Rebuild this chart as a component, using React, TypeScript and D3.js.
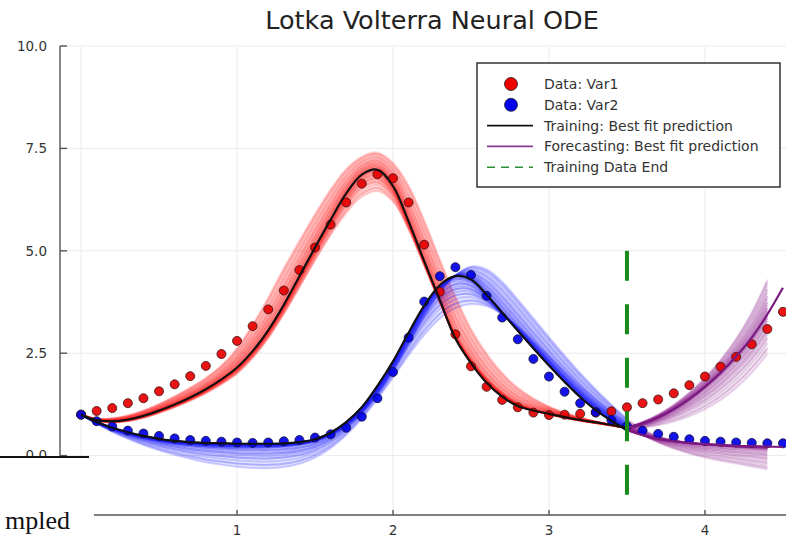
import React from 'react';
import * as d3 from 'd3';

const WIDTH = 786;
const HEIGHT = 539;

// Observation times and the two observed populations
const sampleTimes = [
  0, 0.1, 0.2, 0.3, 0.4, 0.5, 0.6, 0.7, 0.8, 0.9,
  1.0, 1.1, 1.2, 1.3, 1.4, 1.5, 1.6, 1.7, 1.8, 1.9,
  2.0, 2.1, 2.2, 2.3, 2.4, 2.5, 2.6, 2.7, 2.8, 2.9,
  3.0, 3.1, 3.2, 3.3, 3.4, 3.5, 3.6, 3.7, 3.8, 3.9,
  4.0, 4.1, 4.2, 4.3, 4.4, 4.5,
];
const var1Data = [
  1.00, 1.09, 1.16, 1.28, 1.40, 1.57, 1.74, 1.94, 2.19, 2.48,
  2.80, 3.16, 3.57, 4.03, 4.53, 5.08, 5.64, 6.18, 6.64, 6.87,
  6.77, 6.18, 5.15, 4.00, 2.96, 2.18, 1.68, 1.36, 1.18, 1.05,
  0.99, 1.00, 1.02, 1.05, 1.08, 1.18, 1.28, 1.37, 1.52, 1.72,
  1.93, 2.17, 2.41, 2.72, 3.09, 3.51,
];
const var2Data = [
  1.00, 0.84, 0.71, 0.61, 0.54, 0.48, 0.42, 0.38, 0.36, 0.34,
  0.32, 0.31, 0.32, 0.35, 0.38, 0.44, 0.52, 0.68, 0.95, 1.40,
  2.04, 2.88, 3.76, 4.38, 4.60, 4.41, 3.90, 3.37, 2.84, 2.36,
  1.93, 1.56, 1.28, 1.06, 0.87, 0.72, 0.61, 0.53, 0.46, 0.40,
  0.36, 0.34, 0.32, 0.31, 0.30, 0.30,
];

// Best-fit prediction over the training window
const trainTimes = [
  0, 0.1, 0.2, 0.3, 0.4, 0.5, 0.6, 0.7, 0.8, 0.9,
  1.0, 1.1, 1.2, 1.3, 1.4, 1.5, 1.6, 1.7, 1.8, 1.9,
  2.0, 2.1, 2.2, 2.3, 2.4, 2.5, 2.6, 2.7, 2.8, 2.9,
  3.0, 3.1, 3.2, 3.3, 3.4, 3.5,
];
const var1Fit = [
  1.00, 0.87, 0.84, 0.88, 0.97, 1.10, 1.25, 1.42, 1.62, 1.86,
  2.15, 2.55, 3.06, 3.68, 4.38, 5.08, 5.76, 6.40, 6.86, 6.98,
  6.58, 5.72, 4.75, 3.80, 2.86, 2.26, 1.78, 1.44, 1.21, 1.10,
  1.02, 0.94, 0.87, 0.81, 0.75, 0.68,
];
const var2Fit = [
  1.00, 0.82, 0.68, 0.57, 0.48, 0.41, 0.36, 0.33, 0.31, 0.30,
  0.29, 0.29, 0.29, 0.30, 0.33, 0.40, 0.56, 0.82, 1.18, 1.70,
  2.30, 3.00, 3.66, 4.16, 4.38, 4.30, 3.93, 3.49, 3.05, 2.62,
  2.20, 1.80, 1.43, 1.11, 0.85, 0.62,
];

// Best-fit prediction past the end of the training data
const forecastTimes = [3.5, 3.6, 3.7, 3.8, 3.9, 4.0, 4.1, 4.2, 4.3, 4.4, 4.5];
const var1Forecast = [0.68, 0.78, 0.93, 1.13, 1.38, 1.68, 2.02, 2.42, 2.88, 3.45, 4.10];
const var2Forecast = [0.62, 0.50, 0.41, 0.35, 0.31, 0.28, 0.26, 0.24, 0.23, 0.22, 0.21];

// Outer edges of the sampled prediction ensemble (training window)
const var1SpreadHigh = [
  1.00, 0.90, 0.91, 0.98, 1.10, 1.26, 1.45, 1.66, 1.90, 2.20,
  2.62, 3.20, 3.86, 4.58, 5.25, 5.90, 6.50, 7.00, 7.30, 7.40,
  7.15, 6.60, 5.75, 4.80, 3.90, 3.10, 2.50, 2.02, 1.66, 1.40,
  1.20, 1.05, 0.93, 0.83, 0.75, 0.68,
];
const var1SpreadLow = [
  1.00, 0.85, 0.81, 0.84, 0.92, 1.04, 1.18, 1.34, 1.52, 1.74,
  2.00, 2.38, 2.86, 3.45, 4.10, 4.76, 5.38, 5.92, 6.32, 6.46,
  6.20, 5.52, 4.64, 3.74, 2.94, 2.34, 1.88, 1.53, 1.28, 1.12,
  1.01, 0.92, 0.85, 0.79, 0.73, 0.67,
];
const var2SpreadHigh = [
  1.00, 0.81, 0.65, 0.53, 0.43, 0.35, 0.29, 0.25, 0.22, 0.20,
  0.19, 0.19, 0.20, 0.22, 0.27, 0.35, 0.50, 0.72, 1.04, 1.48,
  2.05, 2.72, 3.40, 3.98, 4.40, 4.62, 4.55, 4.25, 3.82, 3.36,
  2.90, 2.45, 2.02, 1.62, 1.25, 0.90,
];
const var2SpreadLow = [
  1.00, 0.78, 0.58, 0.41, 0.26, 0.13, 0.02, -0.08, -0.16, -0.22,
  -0.27, -0.30, -0.31, -0.28, -0.20, -0.05, 0.18, 0.50, 0.90, 1.38,
  1.90, 2.45, 2.95, 3.35, 3.60, 3.70, 3.65, 3.45, 3.15, 2.80,
  2.42, 2.05, 1.70, 1.37, 1.07, 0.80,
];

// Outer edges of the sampled prediction ensemble (forecast window)
const ensembleForecastTimes = [3.5, 3.6, 3.7, 3.8, 3.9, 4.0, 4.1, 4.2, 4.3, 4.4];
const var1ForecastHigh = [0.68, 0.82, 1.00, 1.24, 1.54, 1.90, 2.34, 2.86, 3.50, 4.30];
const var1ForecastLow = [0.67, 0.68, 0.74, 0.83, 0.96, 1.13, 1.36, 1.65, 2.02, 2.48];
const var2ForecastHigh = [0.90, 0.64, 0.47, 0.37, 0.31, 0.27, 0.24, 0.21, 0.18, 0.15];
const var2ForecastLow = [0.80, 0.52, 0.32, 0.17, 0.05, -0.05, -0.13, -0.20, -0.27, -0.34];

// Position of each ensemble member between the best fit (0) and the low (-1) / high (+1) edge
const memberWeights = [
  -1, -0.86, -0.72, -0.6, -0.5, -0.41, -0.33, -0.25, -0.17, -0.1, -0.04,
  0.03, 0.1, 0.18, 0.26, 0.34, 0.43, 0.52, 0.62, 0.72, 0.83, 0.92, 1,
];
// Per-member opacity, so that some samples stand out more than others
const memberAlpha = [
  0.2, 0.28, 0.18, 0.34, 0.24, 0.4, 0.26, 0.44, 0.3, 0.46, 0.4,
  0.44, 0.36, 0.46, 0.3, 0.4, 0.26, 0.36, 0.2, 0.3, 0.18, 0.26, 0.16,
];

const xTicks = [0, 1, 2, 3, 4];
const xTickLabels = ['0', '1', '2', '3', '4'];
const yTicks = [0, 2.5, 5, 7.5, 10];
const yTickLabels = ['0.0', '2.5', '5.0', '7.5', '10.0'];
const trainingEnd = 3.5;
const trainingEndSpan = [-1, 5];

const FONT = '"DejaVu Sans", Verdana, sans-serif';

function blend(fit: number[], low: number[], high: number[], w: number) {
  return fit.map((f, i) => (w < 0 ? f + -w * (low[i] - f) : f + w * (high[i] - f)));
}

export default function App() {
  const x = d3.scaleLinear().domain([-0.135, 4.635]).range([60, 804]);
  const y = d3.scaleLinear().domain([-1.45, 10]).range([515, 46]);

  const curve = d3.curveCatmullRom.alpha(0.5);
  const path = (ts: number[], vs: number[]) =>
    d3
      .line<number>()
      .x((_, i) => x(ts[i]))
      .y((v) => y(v))
      .curve(curve)(vs) || '';
  const band = (ts: number[], lo: number[], hi: number[]) =>
    d3
      .area<number>()
      .x((_, i) => x(ts[i]))
      .y0((_, i) => y(lo[i]))
      .y1((_, i) => y(hi[i]))
      .curve(curve)(ts) || '';

  const fcFit1 = var1Forecast.slice(0, ensembleForecastTimes.length);
  const fcFit2 = var2Forecast.slice(0, ensembleForecastTimes.length);

  const legendItems = [
    { kind: 'dot', color: '#ee0000', label: 'Data: Var1' },
    { kind: 'dot', color: '#0000ee', label: 'Data: Var2' },
    { kind: 'line', color: '#111111', label: 'Training: Best fit prediction' },
    { kind: 'line', color: '#8a3a95', label: 'Forecasting: Best fit prediction' },
    { kind: 'dash', color: '#2f8f2f', label: 'Training Data End' },
  ];

  return (
    <svg
      width={WIDTH}
      height={HEIGHT}
      style={{ position: 'absolute', left: 0, top: 0, background: '#fff' }}
      xmlns="http://www.w3.org/2000/svg"
    >
      <rect x={0} y={0} width={WIDTH} height={HEIGHT} fill="#fff" />

      {/* title */}
      <text x={432} y={29} textAnchor="middle" fontFamily={FONT} fontSize={25.5} fill="#222">
        Lotka Volterra Neural ODE
      </text>

      {/* grid */}
      <g stroke="#ebebeb" strokeWidth={1}>
        {xTicks.map((t) => (
          <line key={'gx' + t} x1={x(t)} x2={x(t)} y1={y(10)} y2={515} />
        ))}
        {yTicks.map((v) => (
          <line key={'gy' + v} x1={60} x2={804} y1={y(v)} y2={y(v)} />
        ))}
      </g>

      {/* spread of the sampled ensemble */}
      <g stroke="none">
        <path d={band(trainTimes, var1SpreadLow, var1SpreadHigh)} fill="#ff3030" fillOpacity={0.14} />
        <path d={band(trainTimes, var2SpreadLow, var2SpreadHigh)} fill="#3030ff" fillOpacity={0.12} />
        <path d={band(ensembleForecastTimes, var1ForecastLow, var1ForecastHigh)} fill="#8a1a8a" fillOpacity={0.1} />
        <path d={band(ensembleForecastTimes, var2ForecastLow, var2ForecastHigh)} fill="#8a1a8a" fillOpacity={0.1} />
      </g>

      {/* individual ensemble samples */}
      <g fill="none" strokeWidth={2}>
        {memberWeights.map((w, k) => (
          <path key={'r' + k} d={path(trainTimes, blend(var1Fit, var1SpreadLow, var1SpreadHigh, w))} stroke="#ff1a1a" strokeOpacity={memberAlpha[k]} />
        ))}
        {memberWeights.map((w, k) => (
          <path key={'b' + k} d={path(trainTimes, blend(var2Fit, var2SpreadLow, var2SpreadHigh, w))} stroke="#1a1aff" strokeOpacity={memberAlpha[k]} />
        ))}
        {memberWeights.map((w, k) => (
          <path key={'p1' + k} d={path(ensembleForecastTimes, blend(fcFit1, var1ForecastLow, var1ForecastHigh, w))} stroke="#8a1a8a" strokeOpacity={memberAlpha[k] * 0.8} />
        ))}
        {memberWeights.map((w, k) => (
          <path key={'p2' + k} d={path(ensembleForecastTimes, blend(fcFit2, var2ForecastLow, var2ForecastHigh, -w))} stroke="#8a1a8a" strokeOpacity={memberAlpha[k] * 0.8} />
        ))}
      </g>

      {/* observations */}
      <g stroke="#3a1010" strokeWidth={0.8}>
        {var1Data.map((v, i) => (
          <circle key={'d1' + i} cx={x(sampleTimes[i])} cy={y(v)} r={4.5} fill="#e80000" fillOpacity={0.92} />
        ))}
        {var2Data.map((v, i) => (
          <circle key={'d2' + i} cx={x(sampleTimes[i])} cy={y(v)} r={4.5} fill="#0000e8" fillOpacity={0.92} stroke="#10103a" />
        ))}
      </g>

      {/* best fit */}
      <g fill="none" strokeWidth={2.2} strokeLinejoin="round">
        <path d={path(trainTimes, var1Fit)} stroke="#111" />
        <path d={path(trainTimes, var2Fit)} stroke="#111" />
        <path d={path(forecastTimes, var1Forecast)} stroke="#7a1a80" />
        <path d={path(forecastTimes, var2Forecast)} stroke="#7a1a80" />
      </g>

      {/* end of training data */}
      <line
        x1={x(trainingEnd)}
        x2={x(trainingEnd)}
        y1={y(trainingEndSpan[1])}
        y2={y(trainingEndSpan[0])}
        stroke="#1a8a1a"
        strokeWidth={4}
        strokeDasharray="30 23.5"
      />

      {/* axes */}
      <g stroke="#555" strokeWidth={1.4}>
        <line x1={60} x2={60} y1={y(10)} y2={515} />
        <line x1={60} x2={804} y1={515} y2={515} />
        {yTicks.map((v) => (
          <line key={'ty' + v} x1={60} x2={67} y1={y(v)} y2={y(v)} />
        ))}
        {xTicks.map((t) => (
          <line key={'tx' + t} x1={x(t)} x2={x(t)} y1={515} y2={510} />
        ))}
      </g>
      <g fontFamily={FONT} fontSize={13.5} fill="#333">
        {yTicks.map((v, i) => (
          <text key={'ly' + v} x={47} y={y(v)} dy="0.36em" textAnchor="end">
            {yTickLabels[i]}
          </text>
        ))}
        {xTicks.map((t, i) => (
          <text key={'lx' + t} x={x(t)} y={535} textAnchor="middle">
            {xTickLabels[i]}
          </text>
        ))}
      </g>

      {/* legend */}
      <g fontFamily={FONT} fontSize={14} fill="#333">
        <rect x={477} y={63} width={303} height={124} fill="#fff" stroke="#333" strokeWidth={1.5} />
        {legendItems.map((it, i) => {
          const cy = 84 + i * 20.8;
          return (
            <g key={it.label}>
              {it.kind === 'dot' && (
                <circle cx={511} cy={cy} r={6.5} fill={it.color} stroke="#222" strokeWidth={0.8} />
              )}
              {it.kind === 'line' && (
                <line x1={487} x2={533} y1={cy} y2={cy} stroke={it.color} strokeWidth={1.6} />
              )}
              {it.kind === 'dash' && (
                <line x1={487} x2={533} y1={cy} y2={cy} stroke={it.color} strokeWidth={1.6} strokeDasharray="8 6" />
              )}
              <text x={544} y={cy} dy="0.35em">
                {it.label}
              </text>
            </g>
          );
        })}
      </g>

      {/* page fragment overlapping the lower-left corner */}
      <rect x={0} y={458} width={94} height={HEIGHT - 458} fill="#fff" />
      <line x1={0} x2={89} y1={457} y2={457} stroke="#111" strokeWidth={2} />
      <text x={70} y={529} textAnchor="end" fontFamily='"Liberation Serif", "Times New Roman", serif' fontSize={26} fill="#111">
        mpled
      </text>
    </svg>
  );
}
